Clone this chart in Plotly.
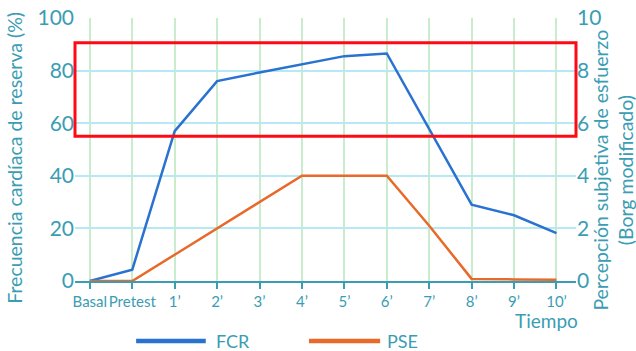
import plotly.graph_objects as go

categories = ["Basal", "Pretest", "1\u2019", "2\u2019", "3\u2019", "4\u2019", "5\u2019", "6\u2019", "7\u2019", "8\u2019", "9\u2019", "10\u2019"]
fcr = [0, 4.3, 57, 76, 79.3, 82.5, 85.5, 86.5, 58, 29, 25, 18.2]
pse = [0, 0, 1, 2, 3, 4, 4, 4, 2.1, 0.08, 0.06, 0.05]
rect_band = [55, 90.6]
series_names = ["FCR", "PSE"]
series_colors = ["#2a72d0", "#e8692a"]

TEAL = "#3a9db3"
FONT = "Lato"
xpos = list(range(len(categories)))

fig = go.Figure()
fig.add_trace(go.Scatter(x=xpos, y=fcr, mode="lines", name=series_names[0],
                         line=dict(color=series_colors[0], width=2.5), yaxis="y"))
fig.add_trace(go.Scatter(x=xpos, y=pse, mode="lines", name=series_names[1],
                         line=dict(color=series_colors[1], width=2.5), yaxis="y2"))

fig.update_layout(
    width=636, height=351,
    margin=dict(l=75, r=60, t=18, b=70, autoexpand=False),
    paper_bgcolor="white", plot_bgcolor="white",
    font=dict(family=FONT, color=TEAL),
    showlegend=False,
    xaxis=dict(range=[-0.35, 11.46], tickmode="array", tickvals=xpos, ticktext=categories,
               tickangle=0, automargin=False,
               showgrid=True, gridcolor="#c9edcc", gridwidth=1.5,
               showline=True, linecolor=TEAL, linewidth=2,
               ticks="outside", ticklen=6, tickcolor=TEAL, tickwidth=2,
               tickfont=dict(size=15, color=TEAL), zeroline=False, fixedrange=True),
    yaxis=dict(range=[0, 100], tickvals=[0, 20, 40, 60, 80, 100], automargin=False,
               showgrid=True, gridcolor="#b5e9f3", gridwidth=2,
               zeroline=False, showline=False, ticks="",
               tickfont=dict(size=21, color=TEAL)),
    yaxis2=dict(range=[0, 10], tickvals=[0, 2, 4, 6, 8, 10], overlaying="y", side="right",
                automargin=False,
                showgrid=False, zeroline=False, showline=False, ticks="",
                tickfont=dict(size=21, color=TEAL)),
)

fig.add_shape(type="rect", xref="paper", yref="y", x0=0, x1=1,
              y0=rect_band[0], y1=rect_band[1],
              line=dict(color="#ff0a14", width=3), fillcolor="rgba(0,0,0,0)")

# manual legend
leg_y = -0.228
leg_items = [(0.122, 0.261, 0.277), (0.467, 0.609, 0.619)]
for (x0, x1, xt), name, col in zip(leg_items, series_names, series_colors):
    fig.add_shape(type="line", xref="paper", yref="paper", x0=x0, x1=x1, y0=leg_y, y1=leg_y,
                  line=dict(color=col, width=4.5))
    fig.add_annotation(text=name, xref="paper", yref="paper", x=xt, y=leg_y,
                       xanchor="left", yanchor="middle", showarrow=False,
                       font=dict(size=18, color=TEAL))

fig.add_annotation(text="Frecuencia card\u00edaca de reserva (%)", xref="paper", yref="paper",
                   x=-0.12, y=0.468, xanchor="center", yanchor="middle", textangle=-90,
                   showarrow=False, font=dict(size=19.5, color=TEAL))
fig.add_annotation(text="Percepci\u00f3n subjetiva de esfuerzo<br>(Borg modificado)",
                   xref="paper", yref="paper", x=1.072, y=0.42, xanchor="center",
                   yanchor="middle", textangle=-90, showarrow=False,
                   font=dict(size=19.5, color=TEAL))
fig.add_annotation(text="Tiempo", xref="paper", yref="paper", x=1.008, y=-0.152,
                   xanchor="right", yanchor="middle", showarrow=False,
                   font=dict(size=19, color=TEAL))

fig.write_html("out.html", config={"displayModeBar": False},
               post_script="document.body.style.margin='0';document.body.style.overflow='hidden';")
